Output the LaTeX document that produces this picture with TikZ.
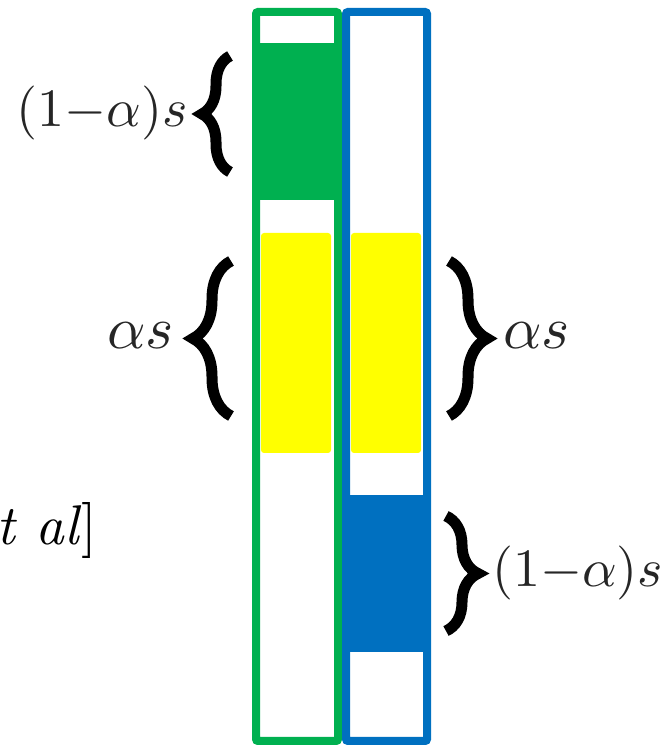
\documentclass[tikz,border=0pt]{standalone}
\usetikzlibrary{decorations.pathreplacing}
\definecolor{pgreen}{HTML}{00B050}
\definecolor{pblue}{HTML}{0070C0}
\definecolor{pyellow}{HTML}{FFFF00}
\begin{document}
\begin{tikzpicture}[x=1pt,y=1pt,
  bar/.style={line width=8pt, rounded corners=2pt},
  brc/.style={line width=11pt, decorate, decoration={brace, amplitude=#1}},
  lblsmall/.style={inner sep=0pt, scale=5.4, text=black!85},
  lblbig/.style={inner sep=0pt, scale=6.0, text=black!85},
  cite/.style={inner sep=0pt, scale=5.6}]
\useasboundingbox (0,0) rectangle (664,745);
\clip (0,0) rectangle (664,745);
% fills
\fill[pgreen] (252,545) rectangle (342,702);
\fill[pblue] (342,93) rectangle (431,250);
\fill[pyellow, rounded corners=3pt] (261,292) rectangle (331,512);
\fill[pyellow, rounded corners=3pt] (351,292) rectangle (421,512);
% bars
\draw[bar, pgreen] (256,4) rectangle (338,733);
\draw[bar, pblue] (346,4) rectangle (427,733);
% braces
\draw[brc=28pt] (230,573) -- (230,689);
\draw[brc=38pt] (231,329) -- (231,484);
\draw[brc=38pt] (449,484) -- (449,329);
\draw[brc=32pt] (446,229) -- (446,114);
% labels
\node[lblsmall, anchor=east] (l1) at (189,632) {$(1{-}\alpha)s$};
\node[lblbig, anchor=east] (l2) at (175,409) {$\alpha s$};
\node[lblbig, anchor=west] (l3) at (502,409) {$\alpha s$};
\node[lblsmall, anchor=west] (l4) at (491,172) {$(1{-}\alpha)s$};
\node[cite, anchor=base east] (c1) at (98,200) {\textit{et al}]};
\end{tikzpicture}
\end{document}
